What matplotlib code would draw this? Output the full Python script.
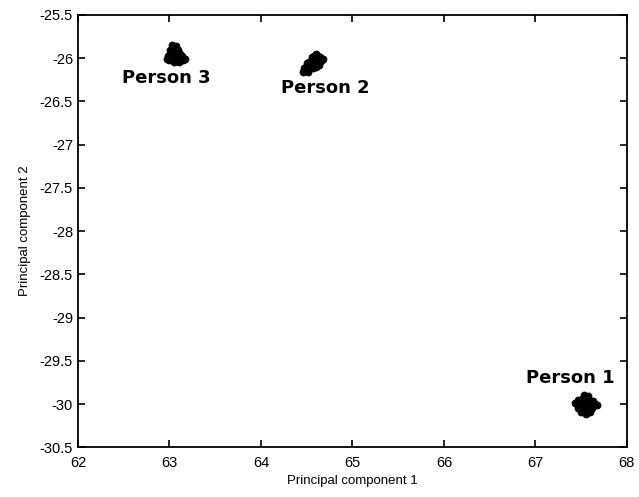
import matplotlib.pyplot as plt

# cluster samples (principal components 1 and 2)
p1_x = [67.45, 67.49, 67.53, 67.57, 67.61, 67.65, 67.47, 67.51, 67.55, 67.59, 67.63,
        67.47, 67.51, 67.55, 67.59, 67.62, 67.50, 67.55, 67.60, 67.43, 67.67,
        67.53, 67.57, 67.55]
p1_y = [-30.00, -30.01, -29.99, -30.00, -30.01, -30.00, -29.95, -29.94, -29.93, -29.95, -29.96,
        -30.05, -30.06, -30.07, -30.05, -30.04, -30.09, -30.10, -30.09, -29.99, -30.01,
        -29.90, -29.91, -30.12]

p2_x = [64.46, 64.49, 64.52, 64.49, 64.53, 64.57, 64.60, 64.53, 64.57, 64.61, 64.64,
        64.58, 64.62, 64.65, 64.68, 64.47, 64.55, 64.62, 64.66, 64.51, 64.56, 64.60,
        64.50, 64.63]
p2_y = [-26.16, -26.15, -26.16, -26.10, -26.10, -26.11, -26.10, -26.04, -26.04, -26.05, -26.05,
        -25.98, -25.98, -25.99, -26.01, -26.11, -26.07, -26.01, -26.03, -26.13, -25.99, -25.95,
        -26.06, -26.08]

p3_x = [62.97, 63.00, 63.04, 63.08, 63.12, 63.15, 62.99, 63.03, 63.07, 63.11, 63.14,
        63.01, 63.05, 63.09, 63.03, 63.07, 62.98, 63.12, 63.17, 63.05, 63.10]
p3_y = [-26.01, -26.02, -26.02, -26.01, -26.01, -26.02, -25.96, -25.95, -25.96, -25.95, -25.97,
        -25.90, -25.89, -25.91, -25.85, -25.86, -25.97, -25.99, -26.01, -26.05, -26.05]

labels = ['Person 1', 'Person 2', 'Person 3']
label_x = [67.38, 64.70, 62.97]
label_y = [-29.70, -26.34, -26.23]

plt.rcParams['font.family'] = ['Liberation Sans', 'DejaVu Sans']

fig, ax = plt.subplots(figsize=(6.39, 4.97), dpi=100)
fig.subplots_adjust(left=0.122, right=0.981, top=0.97, bottom=0.1)

for xs, ys in [(p1_x, p1_y), (p2_x, p2_y), (p3_x, p3_y)]:
    ax.plot(xs, ys, 'o', color='black', markersize=5, markeredgewidth=0.6)

for name, lx, ly in zip(labels, label_x, label_y):
    ax.text(lx, ly, name, ha='center', va='center', fontsize=13,
            fontweight='bold', family='DejaVu Sans')

ax.set_xlim(62, 68)
ax.set_ylim(-30.5, -25.5)
ax.set_xticks(range(62, 69))
ax.set_yticks([-30.5, -30, -29.5, -29, -28.5, -28, -27.5, -27, -26.5, -26, -25.5])
ax.set_yticklabels(['-30.5', '-30', '-29.5', '-29', '-28.5', '-28', '-27.5', '-27',
                    '-26.5', '-26', '-25.5'])
ax.tick_params(direction='in', top=True, right=True, labelsize=10.5, length=5, width=1.2)
ax.tick_params(axis='x', pad=6)
for s in ax.spines.values():
    s.set_linewidth(1.3)

ax.set_xlabel('Principal component 1', fontsize=9.5, labelpad=4)
ax.set_ylabel('Principal component 2', fontsize=9.5, labelpad=6)

fig.savefig('out.png', dpi=100)
